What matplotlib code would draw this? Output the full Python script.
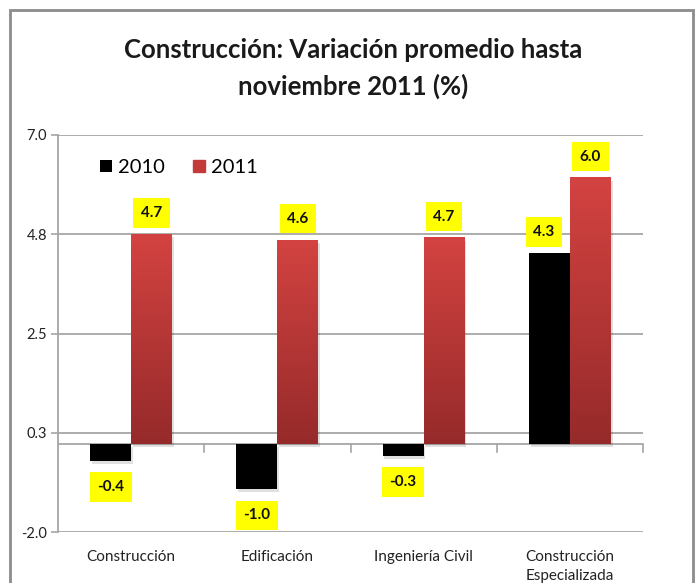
import numpy as np
import matplotlib
matplotlib.use("Agg")
import matplotlib.pyplot as plt
from matplotlib.patches import Rectangle
from matplotlib.colors import LinearSegmentedColormap

plt.rcParams["font.family"] = ["Lato", "DejaVu Sans"]

categories = ["Construcción", "Edificación", "Ingeniería Civil", "Construcción\nEspecializada"]
series_names = ["2010", "2011"]
v2010 = [-0.38, -1.02, -0.27, 4.33]
v2011 = [4.76, 4.63, 4.68, 6.04]
labels2010 = ["-0.4", "-1.0", "-0.3", "4.3"]
labels2011 = ["4.7", "4.6", "4.7", "6.0"]
yticks = [-2.0, 0.25, 2.5, 4.75, 7.0]
ytick_labels = ["-2.0", "0.3", "2.5", "4.8", "7.0"]

W, H = 699, 583
fig = plt.figure(figsize=(W / 100, H / 100), dpi=100)
fig.patch.set_facecolor("white")

# outer chart frame (bottom cut off like the reference)
fig.patches.append(Rectangle((10 / W, -0.05), 683 / W, 1.05 - 10 / H,
                             transform=fig.transFigure, fill=False,
                             edgecolor="#8c8c8c", linewidth=2))

fig.text(353 / W, 1 - 50 / H, "Construcción: Variación promedio hasta",
         ha="center", va="center", fontsize=18.5, fontweight="bold", color="#1a1a1a")
fig.text(353 / W, 1 - 86 / H, "noviembre 2011 (%)",
         ha="center", va="center", fontsize=18.5, fontweight="bold", color="#1a1a1a")

ax = fig.add_axes([58 / W, 1 - 532 / H, 585 / W, 397 / H])
ax.set_xlim(-0.5, 3.5)
ax.set_ylim(-2, 7)

x = np.arange(len(categories))
bw = 0.28

# 2010 bars, solid black
b1 = ax.bar(x - bw / 2, v2010, bw, color="black", zorder=3)

# 2011 bars, red vertical gradient
red = LinearSegmentedColormap.from_list("red", ["#962a2a", "#d34341"])
grad = np.linspace(0, 1, 256).reshape(-1, 1)
b2 = ax.bar(x + bw / 2, v2011, bw, color="#c43a38", zorder=3)
for r in b2:
    rx, ry, rw, rh = r.get_x(), r.get_y(), r.get_width(), r.get_height()
    im = ax.imshow(grad, cmap=red, origin="lower", aspect="auto",
                   extent=(rx, rx + rw, ry, ry + rh), zorder=3.1)
    im.set_clip_path(r)

# soft shadow
for r in list(b1) + list(b2):
    ax.add_patch(Rectangle((r.get_x() + 0.012, r.get_y() - 0.08),
                           r.get_width(), r.get_height(), color="#000000",
                           alpha=0.12, zorder=2.5, linewidth=0))

ax.set_xticks([])
ax.set_yticks(yticks)
ax.set_yticklabels(ytick_labels, fontsize=10.5, color="#222222")
ax.grid(axis="y", color="#a6a6a6", linewidth=1.3, zorder=0)
ax.tick_params(axis="y", length=5, color="#a6a6a6", width=1.2, pad=3)
for s in ["top", "right", "bottom"]:
    ax.spines[s].set_visible(False)
ax.spines["left"].set_color("#a6a6a6")
ax.spines["left"].set_linewidth(1.3)

# zero line with category separator ticks
ax.axhline(0, color="#a6a6a6", linewidth=1.3, zorder=1)
for xb in np.arange(0.5, 4.0, 1.0):
    ax.plot([xb, xb], [0, -0.18], color="#a6a6a6", linewidth=1.2, clip_on=False, zorder=1)

box = dict(boxstyle="square,pad=0.5", facecolor="#ffff00", edgecolor="none")


def label(xc, v, txt, dx=0):
    off = 15 if v >= 0 else -19
    ax.annotate(txt, (xc, v), xytext=(dx, off), textcoords="offset points",
                ha="center", va="center", fontsize=11, fontweight="bold",
                color="#111111", bbox=box, zorder=5)


for i in range(len(categories)):
    dx = -4 if i == 3 else 0
    label(x[i] - bw / 2, v2010[i], labels2010[i], dx)
    label(x[i] + bw / 2, v2011[i], labels2011[i])

for i, c in enumerate(categories):
    ax.text(x[i], -2.4, c, ha="center", va="top", fontsize=11,
            color="#222222", linespacing=1.45)

# legend
leg = ax.legend([b1[0], Rectangle((0, 0), 1, 1, color="#c43a38")], series_names,
                loc="upper left", bbox_to_anchor=(0.04, 0.985), ncol=2, frameon=False,
                fontsize=14.5, handlelength=0.6, handleheight=0.6,
                handletextpad=0.3, columnspacing=1.4)

fig.savefig("out.png", dpi=100, facecolor="white")
